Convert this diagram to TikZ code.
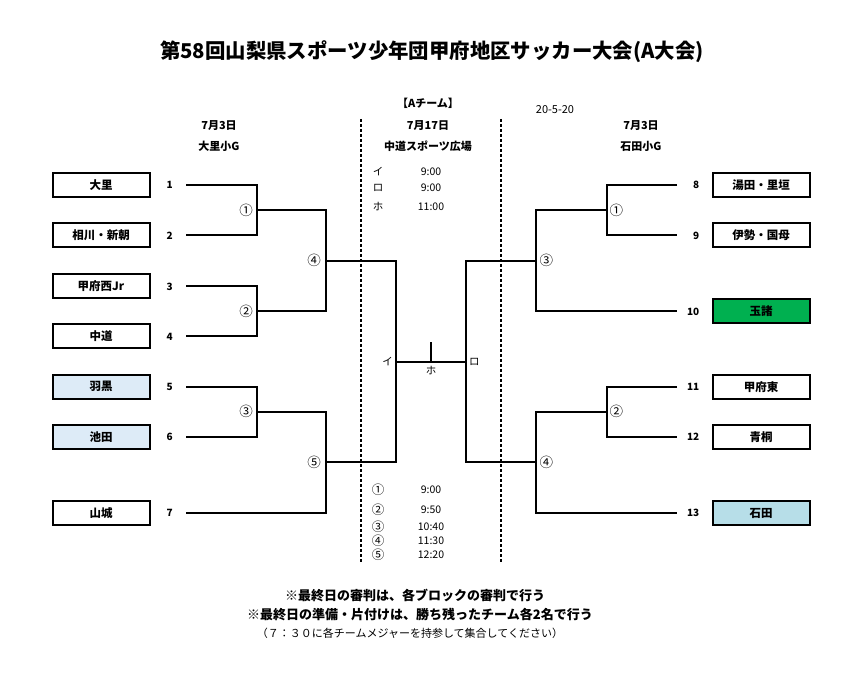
\documentclass[tikz,border=0pt]{standalone}
\usepackage{fontspec}
\setmainfont{Noto Sans CJK JP}
\usetikzlibrary{positioning}

\definecolor{usuao}{RGB}{221,235,247}
\definecolor{mizuiro}{RGB}{183,222,232}
\definecolor{midori}{RGB}{0,176,80}

\tikzset{
	team/.style={draw,line width=2pt,minimum width=97pt,minimum height=24pt,inner sep=0pt,font=\fontsize{11.5}{12}\selectfont\bfseries},
	num/.style={inner sep=0pt,font=\fontsize{10}{10}\selectfont\bfseries},
	ko/.style={line width=2pt},
	maru/.style={inner sep=0pt,font=\fontsize{13.5}{13}\selectfont},
	hdr/.style={inner sep=0pt,font=\fontsize{11}{12}\selectfont\bfseries},
	jikan/.style={inner sep=0pt,font=\fontsize{10.5}{11}\selectfont},
	kugiri/.style={line width=1.3pt,dash pattern=on 3pt off 2pt}
}

\begin{document}
\begin{tikzpicture}[x=1pt,y=-1pt]
	\useasboundingbox (0,0) rectangle (868,676);

	% Titre
	\node[inner sep=0pt,font=\fontsize{20.4}{22}\selectfont\bfseries] (titre) at (432,52) {第58回山梨県スポーツ少年団甲府地区サッカー大会(A大会)};

	% En-tetes
	\node[hdr] (ateam) at (428,103) {【Aチーム】};
	\node[inner sep=0pt,font=\fontsize{11}{12}\selectfont] (hiduke) at (555,110) {20-5-20};
	\node[hdr] (hiL) at (219,126) {7月3日};
	\node[hdr] (kaiL) at (219,146) {大里小G};
	\node[hdr] (hiC) at (428,126) {7月17日};
	\node[hdr] (kaiC) at (428,146) {中道スポーツ広場};
	\node[hdr] (hiR) at (641,126) {7月3日};
	\node[hdr] (kaiR) at (641,146) {石田小G};

	% Les separations
	\draw[kugiri] (361,119) -- (361,563);
	\draw[kugiri] (501,119) -- (501,563);

	% Bloc gauche
	\node[team] (t1) at (101,185) {大里};
	\node[team] (t2) at (101,235.5) {相川・新朝};
	\node[team] (t3) at (101,286.5) {甲府西Jr};
	\node[team] (t4) at (101,336.5) {中道};
	\node[team,fill=usuao] (t5) at (101,386.7) {羽黒};
	\node[team,fill=usuao] (t6) at (101,437) {池田};
	\node[team] (t7) at (101,512.7) {山城};
	\foreach \i in {1,...,7}
		\node[num,right=16pt of t\i] (n\i) {\i};
	\coordinate (a1) at (186,185);
	\coordinate (a2) at (186,235);
	\coordinate (a3) at (186,286.5);
	\coordinate (a4) at (186,336.5);
	\coordinate (a5) at (186,386.7);
	\coordinate (a6) at (186,437);
	\coordinate (a7) at (186,512.7);
	\coordinate (m1) at (257,210);
	\coordinate (m2) at (257,311.5);
	\coordinate (m3) at (257,411.8);
	\coordinate (m4) at (326,260.7);
	\coordinate (m5) at (326,462.2);
	\draw[ko] (a1) -| (m1) |- (a2);
	\draw[ko] (a3) -| (m2) |- (a4);
	\draw[ko] (a5) -| (m3) |- (a6);
	\draw[ko] (m1) -| (m4) |- (m2);
	\draw[ko] (m3) -| (m5) |- (a7);
	\node[maru,left=4pt of m1] (c1) {①};
	\node[maru,left=4pt of m2] (c2) {②};
	\node[maru,left=4pt of m3] (c3) {③};
	\node[maru,left=5pt of m4] (c4) {④};
	\node[maru,left=5pt of m5] (c5) {⑤};

	% Bloc droit
	\node[team] (t8) at (761,185) {湯田・里垣};
	\node[team] (t9) at (761,235.5) {伊勢・国母};
	\node[team,fill=midori] (t10) at (761,311.5) {玉諸};
	\node[team] (t11) at (761,386.7) {甲府東};
	\node[team] (t12) at (761,437) {青桐};
	\node[team,fill=mizuiro] (t13) at (761,513) {石田};
	\foreach \i in {8,...,13}
		\node[num,left=12pt of t\i] (n\i) {\i};
	\coordinate (b8) at (677,185);
	\coordinate (b9) at (677,235);
	\coordinate (b10) at (677,311);
	\coordinate (b11) at (677,386.7);
	\coordinate (b12) at (677,437);
	\coordinate (b13) at (677,513);
	\coordinate (r1) at (607,210);
	\coordinate (r2) at (607,411.8);
	\coordinate (r3) at (536,260.7);
	\coordinate (r4) at (536,462.2);
	\draw[ko] (b8) -| (r1) |- (b9);
	\draw[ko] (b11) -| (r2) |- (b12);
	\draw[ko] (r1) -| (r3) |- (b10);
	\draw[ko] (r2) -| (r4) |- (b13);
	\node[maru,right=2.5pt of r1] (d1) {①};
	\node[maru,right=2.5pt of r2] (d2) {②};
	\node[maru,right=3.5pt of r3] (d3) {③};
	\node[maru,right=3.5pt of r4] (d4) {④};

	% La finale
	\coordinate (i) at (396,362);
	\coordinate (ro) at (466,362);
	\coordinate (ho) at (431,362);
	\coordinate (hotop) at (431,342);
	\draw[ko] (m4) -| (i) |- (m5);
	\draw[ko] (r3) -| (ro) |- (r4);
	\draw[ko] (i) -- (ro);
	\draw[ko] (ho) -- (hotop);
	\node[jikan,left=3pt of i] (li) {イ};
	\node[jikan,right=3pt of ro] (lro) {ロ};
	\node[jikan,below=4pt of ho] (lho) {ホ};

	% Les horaires
	\node[jikan] (k1) at (378,171.7) {イ};
	\node[jikan] (k2) at (378,187.7) {ロ};
	\node[jikan] (k3) at (378,206.7) {ホ};
	\node[jikan] (s1) at (431,171.7) {9:00};
	\node[jikan] (s2) at (431,187.7) {9:00};
	\node[jikan] (s3) at (431,206.7) {11:00};
	\foreach \c/\t/\y [count=\j] in {①/9:00/490,②/9:50/510,③/10:40/526.7,④/11:30/540.7,⑤/12:20/554.3}{
		\node[maru,font=\fontsize{12.5}{12}\selectfont] (q\j) at (378,\y) {\c};
		\node[jikan] (h\j) at (431,\y) {\t};
	}

	% Les remarques
	\node[inner sep=0pt,font=\fontsize{13}{13}\selectfont\bfseries] (note1) at (415,595) {※最終日の審判は、各ブロックの審判で行う};
	\node[inner sep=0pt,font=\fontsize{13}{13}\selectfont\bfseries] (note2) at (420,615) {※最終日の準備・片付けは、勝ち残ったチーム各2名で行う};
	\node[inner sep=0pt,font=\fontsize{11}{11}\selectfont] (note3) at (410,633) {（７：３０に各チームメジャーを持参して集合してください）};
\end{tikzpicture}
\end{document}
